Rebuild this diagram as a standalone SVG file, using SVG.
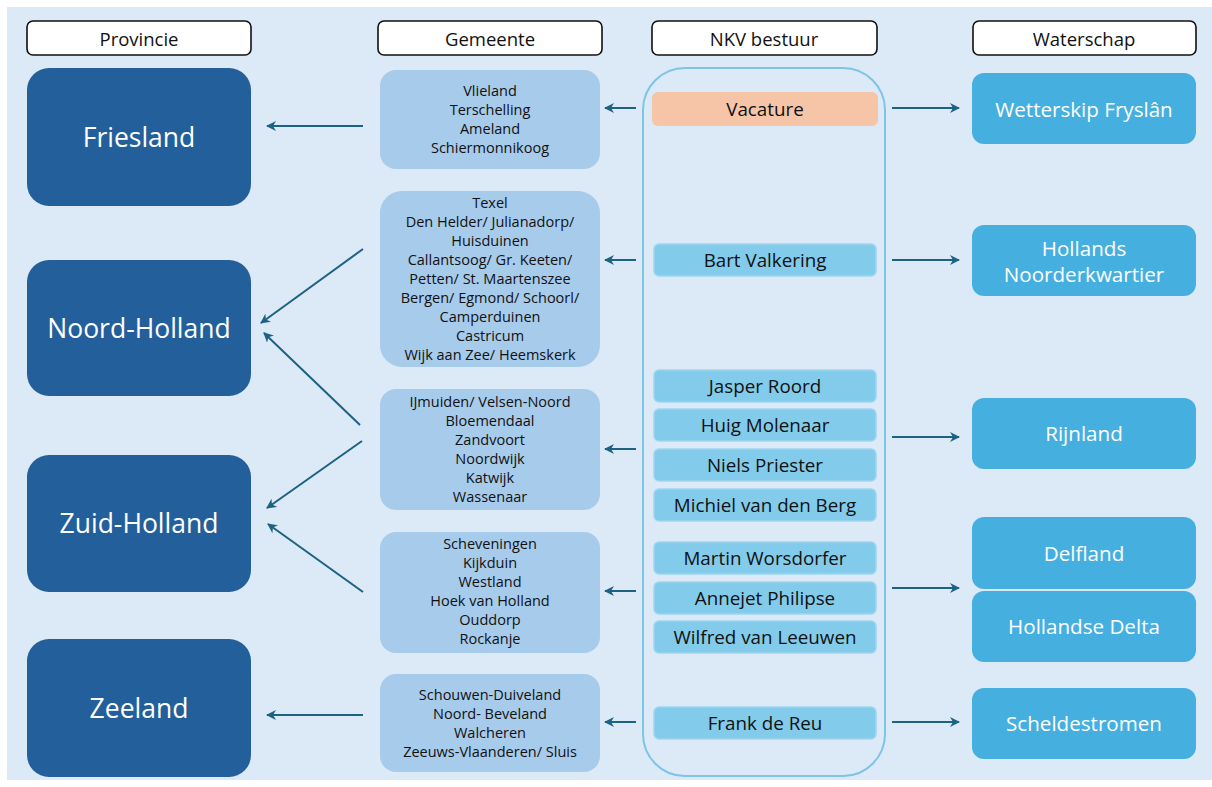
<svg xmlns="http://www.w3.org/2000/svg" width="1212" height="787" viewBox="0 0 1212 787">
<defs>
<marker id="ah" viewBox="0 0 10 10" refX="9" refY="5" markerWidth="5" markerHeight="5" orient="auto-start-reverse" markerUnits="strokeWidth">
<path d="M0,0 L10,5 L0,10 L3,5 z" fill="#1c6282"/>
</marker>
<style>
text{font-family:"Open Sans","Liberation Sans",sans-serif;text-anchor:middle;dominant-baseline:central}
.hdr rect{fill:#ffffff;stroke:#111;stroke-width:1.6}
.hdr text{font-size:18.5px;fill:#111}
.prov rect{fill:#235f9b}
.prov text{font-size:26.5px;fill:#fff}
.gem rect{fill:#a7cbeb}
.gem text{font-size:14.5px;fill:#111}
.nkv rect{fill:#82cbea;stroke:#9fd6ef;stroke-width:1.5}
.nkv text{font-size:18.8px;fill:#111}
.ws rect{fill:#45b0e0}
.ws text{font-size:20.6px;fill:#fff}
.conn line{stroke:#1c6282;stroke-width:2;marker-end:url(#ah)}
</style>
</defs>
<rect x="7" y="7" width="1205" height="773" fill="#dce9f6"/>

<g id="hdr-provincie" class="hdr"><rect x="27" y="21" width="224" height="34" rx="6"/><text x="139" y="38">Provincie</text></g>
<g id="hdr-gemeente" class="hdr"><rect x="378" y="21" width="224" height="34" rx="6"/><text x="490" y="38">Gemeente</text></g>
<g id="hdr-nkv" class="hdr"><rect x="652" y="21" width="225" height="34" rx="6"/><text x="764" y="38">NKV bestuur</text></g>
<g id="hdr-waterschap" class="hdr"><rect x="973" y="21" width="223" height="34" rx="6"/><text x="1084" y="38">Waterschap</text></g>

<g id="prov-friesland" class="prov"><rect x="27" y="68" width="224" height="138" rx="22"/><text x="139" y="137">Friesland</text></g>
<g id="prov-noord-holland" class="prov"><rect x="27" y="260" width="224" height="136" rx="22"/><text x="139" y="328">Noord-Holland</text></g>
<g id="prov-zuid-holland" class="prov"><rect x="27" y="455" width="224" height="137" rx="22"/><text x="139" y="523">Zuid-Holland</text></g>
<g id="prov-zeeland" class="prov"><rect x="27" y="639" width="224" height="138" rx="22"/><text x="139" y="708">Zeeland</text></g>

<g id="gem-1" class="gem"><rect x="380" y="70" width="220" height="99" rx="16"/>
<text x="490" y="90">Vlieland</text><text x="490" y="109">Terschelling</text><text x="490" y="128">Ameland</text><text x="490" y="147">Schiermonnikoog</text></g>
<g id="gem-2" class="gem"><rect x="380" y="191" width="220" height="176" rx="22"/>
<text x="490" y="202">Texel</text><text x="490" y="221">Den Helder/ Julianadorp/</text><text x="490" y="240">Huisduinen</text><text x="490" y="259">Callantsoog/ Gr. Keeten/</text><text x="490" y="278">Petten/ St. Maartenszee</text><text x="490" y="297">Bergen/ Egmond/ Schoorl/</text><text x="490" y="316">Camperduinen</text><text x="490" y="335">Castricum</text><text x="490" y="354">Wijk aan Zee/ Heemskerk</text></g>
<g id="gem-3" class="gem"><rect x="380" y="389" width="220" height="121" rx="16"/>
<text x="490" y="401">IJmuiden/ Velsen-Noord</text><text x="490" y="420">Bloemendaal</text><text x="490" y="439">Zandvoort</text><text x="490" y="458">Noordwijk</text><text x="490" y="477">Katwijk</text><text x="490" y="496">Wassenaar</text></g>
<g id="gem-4" class="gem"><rect x="380" y="532" width="220" height="121" rx="16"/>
<text x="490" y="543">Scheveningen</text><text x="490" y="562">Kijkduin</text><text x="490" y="581">Westland</text><text x="490" y="600">Hoek van Holland</text><text x="490" y="619">Ouddorp</text><text x="490" y="638">Rockanje</text></g>
<g id="gem-5" class="gem"><rect x="380" y="674" width="220" height="98" rx="16"/>
<text x="490" y="694">Schouwen-Duiveland</text><text x="490" y="713">Noord- Beveland</text><text x="490" y="732">Walcheren</text><text x="490" y="751">Zeeuws-Vlaanderen/ Sluis</text></g>

<g id="nkv-container"><rect x="643" y="68" width="242" height="708" rx="42" fill="none" stroke="#7ec4e6" stroke-width="2"/></g>
<g id="nkv-vacature" class="nkv"><rect x="652" y="92" width="226" height="34" rx="6" style="fill:#f6c5a8;stroke:none"/><text x="765" y="109">Vacature</text></g>
<g id="nkv-bart" class="nkv"><rect x="654" y="244" width="222" height="32" rx="5"/><text x="765" y="260">Bart Valkering</text></g>
<g id="nkv-jasper" class="nkv"><rect x="654" y="370" width="222" height="32" rx="5"/><text x="765" y="386">Jasper Roord</text></g>
<g id="nkv-huig" class="nkv"><rect x="654" y="409" width="222" height="32" rx="5"/><text x="765" y="425">Huig Molenaar</text></g>
<g id="nkv-niels" class="nkv"><rect x="654" y="449" width="222" height="32" rx="5"/><text x="765" y="465">Niels Priester</text></g>
<g id="nkv-michiel" class="nkv"><rect x="654" y="489" width="222" height="32" rx="5"/><text x="765" y="505">Michiel van den Berg</text></g>
<g id="nkv-martin" class="nkv"><rect x="654" y="542" width="222" height="32" rx="5"/><text x="765" y="558">Martin Worsdorfer</text></g>
<g id="nkv-annejet" class="nkv"><rect x="654" y="582" width="222" height="32" rx="5"/><text x="765" y="598">Annejet Philipse</text></g>
<g id="nkv-wilfred" class="nkv"><rect x="654" y="621" width="222" height="32" rx="5"/><text x="765" y="637">Wilfred van Leeuwen</text></g>
<g id="nkv-frank" class="nkv"><rect x="654" y="707" width="222" height="32" rx="5"/><text x="765" y="723">Frank de Reu</text></g>

<g id="ws-wetterskip" class="ws"><rect x="972" y="73" width="224" height="71" rx="12"/><text x="1084" y="109">Wetterskip Fryslân</text></g>
<g id="ws-hnk" class="ws"><rect x="972" y="225" width="224" height="71" rx="12"/><text x="1084" y="248">Hollands</text><text x="1084" y="274">Noorderkwartier</text></g>
<g id="ws-rijnland" class="ws"><rect x="972" y="398" width="224" height="71" rx="12"/><text x="1084" y="433">Rijnland</text></g>
<g id="ws-delfland" class="ws"><rect x="972" y="517" width="224" height="72" rx="12"/><text x="1084" y="553">Delfland</text></g>
<g id="ws-hollandse-delta" class="ws"><rect x="972" y="591" width="224" height="71" rx="12"/><text x="1084" y="626">Hollandse Delta</text></g>
<g id="ws-scheldestromen" class="ws"><rect x="972" y="688" width="224" height="71" rx="12"/><text x="1084" y="723">Scheldestromen</text></g>

<g id="connectors" class="conn">
<line x1="636" y1="108" x2="605" y2="108"/>
<line x1="636" y1="260" x2="605" y2="260"/>
<line x1="636" y1="449" x2="605" y2="449"/>
<line x1="636" y1="591" x2="605" y2="591"/>
<line x1="636" y1="722" x2="605" y2="722"/>
<line x1="363" y1="126" x2="267" y2="126"/>
<line x1="363" y1="715" x2="267" y2="715"/>
<line x1="363" y1="249" x2="261" y2="323"/>
<line x1="360" y1="425" x2="264" y2="333"/>
<line x1="362" y1="441" x2="267" y2="508"/>
<line x1="363" y1="592" x2="268" y2="524"/>
<line x1="892" y1="108" x2="959" y2="108"/>
<line x1="892" y1="260" x2="959" y2="260"/>
<line x1="892" y1="437" x2="959" y2="437"/>
<line x1="892" y1="588" x2="959" y2="588"/>
<line x1="892" y1="722" x2="959" y2="722"/>
</g>
</svg>
